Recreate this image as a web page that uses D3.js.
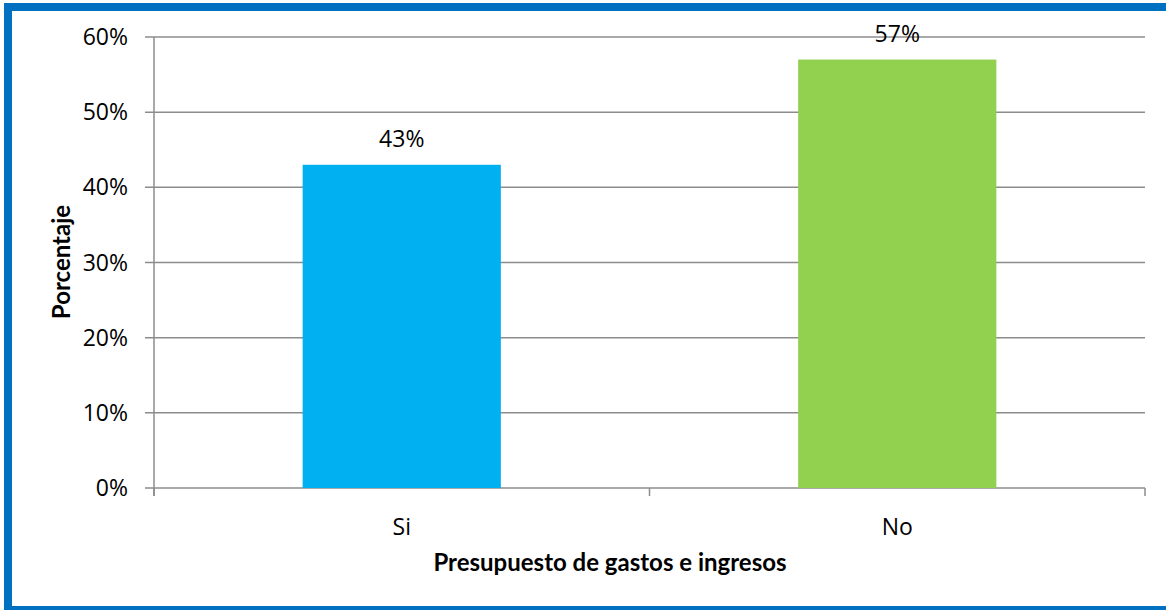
<!DOCTYPE html>
<html><head><meta charset="utf-8">
<script src="https://cdn.jsdelivr.net/npm/d3@7"></script>
<style>html,body{margin:0;padding:0;background:#fff;overflow:hidden}</style>
</head><body>
<svg id="c" width="1166" height="610"></svg>
<script>
const categories = ["Si", "No"];
const values = [0.43, 0.57];
const colors = ["#00B0F0", "#92D050"];
const yTicks = [0, 0.1, 0.2, 0.3, 0.4, 0.5, 0.6];
const xTitle = "Presupuesto de gastos e ingresos";
const yTitle = "Porcentaje";

const svg = d3.select("#c");
// border
svg.append("rect").attr("x", 8).attr("y", 7).attr("width", 1170).attr("height", 603)
  .attr("fill", "#fff").attr("stroke", "#0070C0").attr("stroke-width", 8);

const pLeft = 154, pRight = 1145, pTop = 37, pBottom = 488;
const x = d3.scaleBand().domain(categories).range([pLeft, pRight]).paddingInner(0.6).paddingOuter(0.3);
const y = d3.scaleLinear().domain([0, 0.6]).range([pBottom, pTop]);
const gridColor = "#8C8C8C";
const font = "'Open Sans', sans-serif";
const fs = 23;

// gridlines
svg.append("g").selectAll("line").data(yTicks).join("line")
  .attr("x1", pLeft - 9).attr("x2", pRight).attr("y1", d => y(d)).attr("y2", d => y(d))
  .attr("stroke", gridColor).attr("stroke-width", 1.5);
// y axis line
svg.append("line").attr("x1", pLeft).attr("x2", pLeft).attr("y1", pTop).attr("y2", pBottom + 8)
  .attr("stroke", gridColor).attr("stroke-width", 1.5);
// x ticks at band boundaries
const bounds = [pLeft, (pLeft + pRight) / 2, pRight];
svg.append("g").selectAll("line").data(bounds).join("line")
  .attr("x1", d => d).attr("x2", d => d).attr("y1", pBottom).attr("y2", pBottom + 8)
  .attr("stroke", gridColor).attr("stroke-width", 1.5);

// y tick labels
svg.append("g").selectAll("text").data(yTicks).join("text")
  .attr("x", pLeft - 26).attr("y", d => y(d)).attr("dy", "0.35em")
  .attr("text-anchor", "end").attr("font-family", font).attr("font-size", fs).attr("fill", "#000")
  .text(d3.format(".0%"));

// bars
svg.append("g").selectAll("rect").data(categories).join("rect")
  .attr("x", d => x(d)).attr("width", x.bandwidth())
  .attr("y", (d, i) => y(values[i])).attr("height", (d, i) => pBottom - y(values[i]))
  .attr("fill", (d, i) => colors[i]);

// data labels
svg.append("g").selectAll("text").data(categories).join("text")
  .attr("x", d => x(d) + x.bandwidth() / 2).attr("y", (d, i) => y(values[i]) - 18)
  .attr("text-anchor", "middle").attr("font-family", font).attr("font-size", fs).attr("fill", "#000")
  .text((d, i) => d3.format(".0%")(values[i]));

// category labels
svg.append("g").selectAll("text").data(categories).join("text")
  .attr("x", d => x(d) + x.bandwidth() / 2).attr("y", 527).attr("dy", "0.35em")
  .attr("text-anchor", "middle").attr("font-family", font).attr("font-size", fs).attr("fill", "#000")
  .text(d => d);

// axis titles
svg.append("text").attr("x", 610).attr("y", 563).attr("dy", "0.35em")
  .attr("text-anchor", "middle").attr("font-family", "Lato, sans-serif").attr("font-weight", "bold")
  .attr("font-size", 24).attr("fill", "#000").text(xTitle);
svg.append("text").attr("transform", "translate(62,262) rotate(-90)").attr("dy", "0.35em")
  .attr("text-anchor", "middle").attr("font-family", "Lato, sans-serif").attr("font-weight", "bold")
  .attr("font-size", 24).attr("fill", "#000").text(yTitle);
</script>
</body></html>
